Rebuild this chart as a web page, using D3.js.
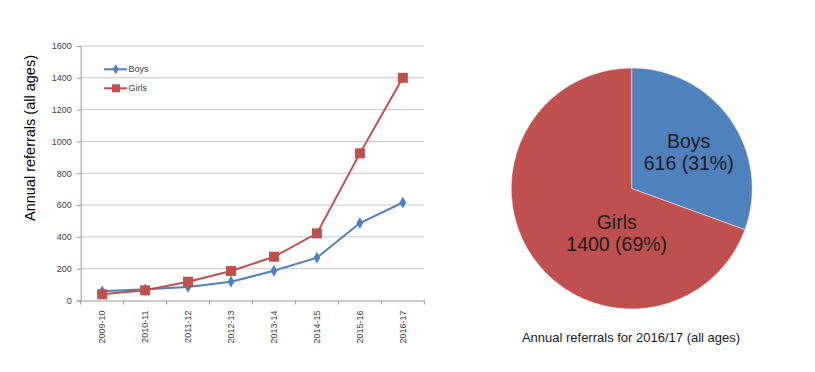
<!DOCTYPE html>
<html><head><meta charset="utf-8">
<script src="https://cdn.jsdelivr.net/npm/d3@7"></script>
<style>body{margin:0;background:#fff}svg{display:block}</style>
</head><body>
<svg id="c" width="815" height="372"></svg>
<script>
const years = ["2009-10","2010-11","2011-12","2012-13","2013-14","2014-15","2015-16","2016-17"];
const boys = [58, 70, 85, 118, 187, 269, 487, 616];
const girls = [39, 64, 118, 185, 275, 422, 925, 1400];
const yTicks = [0,200,400,600,800,1000,1200,1400,1600];
const pieLabels = ["Boys","Girls"];
const pieValues = [616, 1400];
const pieColors = ["#4F81BD","#C0504D"];
const seriesNames = ["Boys","Girls"];
const seriesColors = ["#4F81BD","#C0504D"];

const svg = d3.select("#c");
const F = "'Liberation Sans', Arial, sans-serif";

// line chart
const x = d3.scaleBand().domain(years).range([80.7, 424.3]);
const y = d3.scaleLinear().domain([0,1600]).range([300.5, 46]);
const g = svg.append("g");

g.selectAll("line.grid").data(yTicks.slice(1)).join("line")
  .attr("x1", 80.7).attr("x2", 424.3)
  .attr("y1", d=>y(d)).attr("y2", d=>y(d))
  .attr("stroke", "#c8c8c8").attr("stroke-width", 1);

const yAxis = g.append("g").attr("transform","translate(80.7,0)")
  .call(d3.axisLeft(y).tickValues(yTicks).tickFormat(d3.format("d")).tickSize(4).tickPadding(5));
yAxis.select(".domain").attr("stroke","#9a9a9a");
yAxis.selectAll(".tick line").attr("stroke","#9a9a9a");
yAxis.selectAll("text").attr("font-family",F).attr("font-size","9px").attr("fill","#404040");

const xAxis = g.append("g").attr("transform","translate(0,300.5)")
  .call(d3.axisBottom(x).tickSize(0).tickPadding(0));
xAxis.select(".domain").attr("stroke","#9a9a9a");
xAxis.selectAll(".tick text")
  .attr("transform","rotate(-90)")
  .attr("x", -10).attr("y", 0).attr("dy","0.35em")
  .attr("text-anchor","end")
  .attr("font-family",F).attr("font-size","9px").attr("fill","#404040");
xAxis.selectAll("line.cb").data(years.concat(["end"])).join("line")
  .attr("x1",(d,i)=>80.7+i*x.step()).attr("x2",(d,i)=>80.7+i*x.step())
  .attr("y1",0).attr("y2",4).attr("stroke","#9a9a9a");

const line = d3.line().x((d,i)=>x(years[i])+x.bandwidth()/2).y(d=>y(d));
[boys, girls].forEach((s,k)=>{
  g.append("path").datum(s).attr("d", line).attr("fill","none")
   .attr("stroke", seriesColors[k]).attr("stroke-width", 2);
});
const diamond = d3.symbol().type(d3.symbolDiamond).size(40);
g.selectAll("path.bm").data(boys).join("path")
  .attr("transform",(d,i)=>`translate(${x(years[i])+x.bandwidth()/2},${y(d)})`)
  .attr("d", diamond).attr("fill", seriesColors[0]);
g.selectAll("rect.gm").data(girls).join("rect")
  .attr("x",(d,i)=>x(years[i])+x.bandwidth()/2-5).attr("y",d=>y(d)-5)
  .attr("width",10).attr("height",10).attr("fill", seriesColors[1]);

// legend
seriesNames.forEach((n,k)=>{
  const ly = 69.3 + k*19;
  g.append("line").attr("x1",104).attr("x2",127).attr("y1",ly).attr("y2",ly)
    .attr("stroke",seriesColors[k]).attr("stroke-width",2);
  if(k===0) g.append("path").attr("transform",`translate(115.7,${ly})`).attr("d",d3.symbol().type(d3.symbolDiamond).size(30)).attr("fill",seriesColors[k]);
  else g.append("rect").attr("x",112).attr("y",ly-4).attr("width",8).attr("height",8).attr("fill",seriesColors[k]);
  g.append("text").attr("x",128.5).attr("y",ly).attr("dy","0.35em")
    .attr("font-family",F).attr("font-size","9px").attr("fill","#404040").text(n);
});

g.append("text").attr("transform","translate(35,138) rotate(-90)")
  .attr("text-anchor","middle").attr("font-family",F)
  .attr("font-size","14.5px").attr("fill","#000").text("Annual referrals (all ages)");

// pie
const cx = 631.7, cy = 188.5, r = 120.5;
const pie = d3.pie().sort(null).value(d=>d)(pieValues);
const arc = d3.arc().innerRadius(0).outerRadius(r);
const pg = svg.append("g").attr("transform",`translate(${cx},${cy})`);
pg.selectAll("path").data(pie).join("path").attr("d",arc)
  .attr("fill",(d,i)=>pieColors[i]).attr("stroke","#fff").attr("stroke-width",0.5);
const total = d3.sum(pieValues);
const labelPos = [[57,-41],[-15,40]];
pie.forEach((d,i)=>{
  const t = pg.append("text").attr("text-anchor","middle")
    .attr("font-family",F).attr("font-size","19.5px").attr("fill","#1a1a1a");
  t.append("tspan").attr("x",labelPos[i][0]).attr("y",labelPos[i][1]).text(pieLabels[i]);
  t.append("tspan").attr("x",labelPos[i][0]).attr("y",labelPos[i][1]+22)
    .text(`${pieValues[i]} (${Math.round(pieValues[i]/total*100)}%)`);
});
svg.append("text").attr("x",631).attr("y",342).attr("text-anchor","middle")
  .attr("font-family",F).attr("font-size","13px").attr("fill","#1a1a1a")
  .text("Annual referrals for 2016/17 (all ages)");
</script>
</body></html>
